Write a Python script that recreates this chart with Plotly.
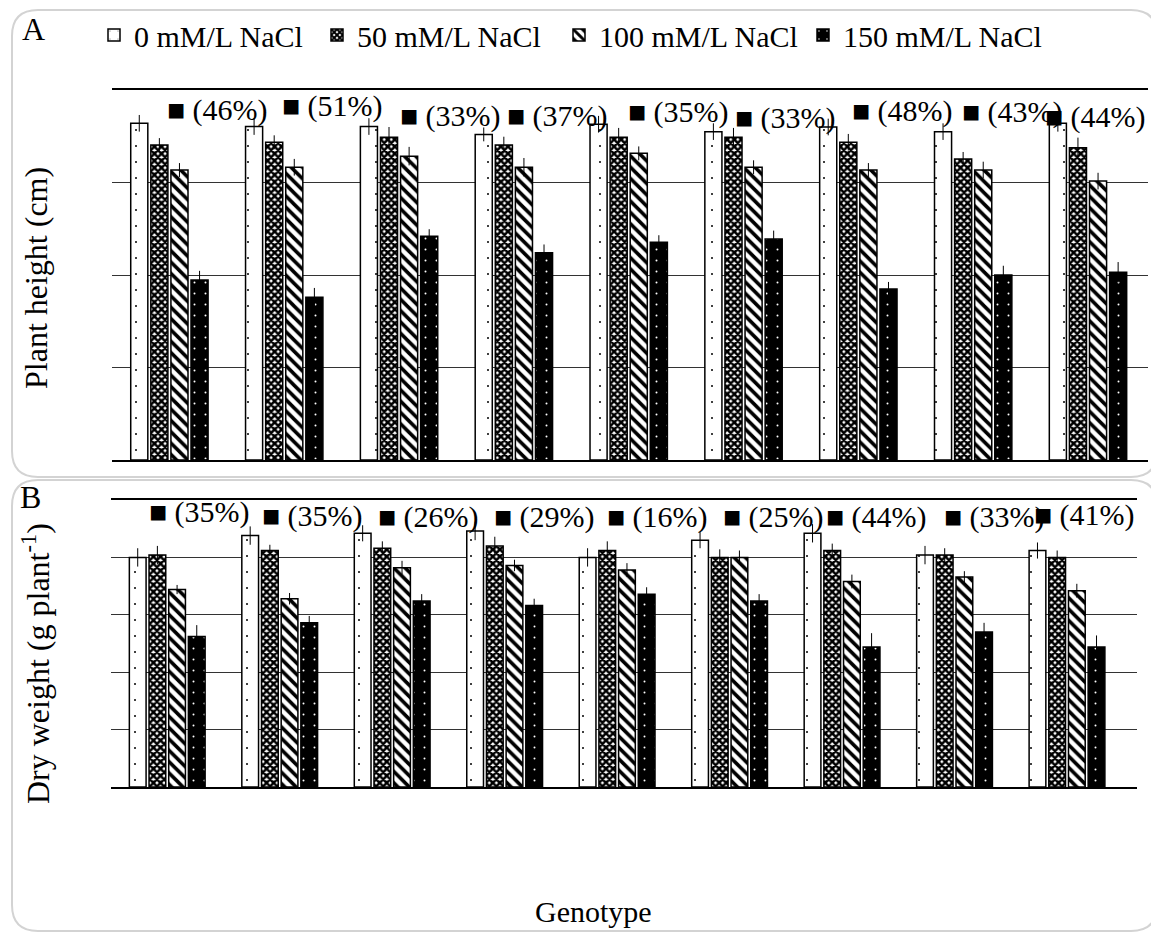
import plotly.graph_objects as go

# page body has an 8px margin; figure is sized/positioned to compensate
OFF = 8
W, H = 1159 - OFF, 933 - OFF

genotypes = ["G1", "G2", "G3", "G4", "G5", "G6", "G7", "G8", "G9"]
treatments = ["0 mM/L NaCl", "50 mM/L NaCl", "100 mM/L NaCl", "150 mM/L NaCl"]

# Panel A: plant height (cm)
height_0 = [72.8, 72.1, 72.1, 70.4, 72.6, 71.0, 72.0, 71.0, 72.8]
height_50 = [68.1, 68.7, 69.8, 68.1, 69.8, 69.8, 68.7, 65.1, 67.5]
height_100 = [62.7, 63.3, 65.7, 63.3, 66.3, 63.3, 62.7, 62.7, 60.3]
height_150 = [38.9, 35.2, 48.4, 44.8, 47.1, 47.8, 37.0, 40.0, 40.6]
height_err_0 = [1.8, 1.8, 1.8, 1.5, 1.8, 1.8, 1.8, 1.8, 1.8]
height_err_50 = [1.5, 1.5, 2.2, 1.8, 2.0, 2.0, 1.8, 1.5, 2.2]
height_err_100 = [1.5, 1.8, 2.0, 2.0, 1.5, 1.5, 1.5, 1.8, 1.8]
height_err_150 = [2.0, 2.0, 1.5, 1.8, 1.5, 1.8, 1.5, 2.0, 2.2]
height_reduction = ["46%", "51%", "33%", "37%", "35%", "33%", "48%", "43%", "44%"]

# Panel B: dry weight (g plant-1)
dry_0 = [2.00, 2.19, 2.21, 2.23, 2.00, 2.15, 2.21, 2.02, 2.06]
dry_50 = [2.02, 2.06, 2.08, 2.10, 2.06, 2.00, 2.06, 2.02, 2.00]
dry_100 = [1.72, 1.64, 1.91, 1.93, 1.89, 2.00, 1.79, 1.83, 1.71]
dry_150 = [1.31, 1.43, 1.62, 1.58, 1.68, 1.62, 1.22, 1.35, 1.22]
dry_err_0 = [0.08, 0.08, 0.07, 0.08, 0.08, 0.07, 0.08, 0.08, 0.07]
dry_err_50 = [0.08, 0.05, 0.06, 0.08, 0.08, 0.07, 0.06, 0.06, 0.06]
dry_err_100 = [0.04, 0.05, 0.06, 0.05, 0.06, 0.06, 0.06, 0.05, 0.06]
dry_err_150 = [0.10, 0.06, 0.06, 0.06, 0.06, 0.06, 0.12, 0.08, 0.10]
dry_reduction = ["35%", "35%", "26%", "29%", "16%", "25%", "44%", "33%", "41%"]

FONT = "Liberation Serif, Times New Roman, serif"

patterns = [
    dict(shape=".", fgcolor="black", bgcolor="white", size=16, solidity=0.012, fgopacity=1),
    dict(shape="x", fgcolor="black", bgcolor="white", size=5, solidity=0.75, fgopacity=1),
    dict(shape="\\", fgcolor="black", bgcolor="white", size=8, solidity=0.45, fgopacity=1),
    dict(shape=".", fgcolor="white", bgcolor="black", size=11, solidity=0.025, fgopacity=1),
]
legend_names = ["legend", "legend2", "legend3", "legend4"]

fig = go.Figure()

a_vals = [height_0, height_50, height_100, height_150]
a_errs = [height_err_0, height_err_50, height_err_100, height_err_150]
b_vals = [dry_0, dry_50, dry_100, dry_150]
b_errs = [dry_err_0, dry_err_50, dry_err_100, dry_err_150]

for i, t in enumerate(treatments):
    fig.add_trace(go.Bar(
        x=genotypes, y=a_vals[i], name=t, legend=legend_names[i],
        marker=dict(color="white" if i < 3 else "black",
                    line=dict(color="black", width=1.5),
                    pattern=patterns[i]),
        error_y=dict(type="data", array=a_errs[i], color="black", thickness=1, width=0),
        xaxis="x", yaxis="y", offsetgroup=str(i),
    ))
for i, t in enumerate(treatments):
    fig.add_trace(go.Bar(
        x=genotypes, y=b_vals[i], name=t, showlegend=False,
        marker=dict(color="white" if i < 3 else "black",
                    line=dict(color="black", width=1.5),
                    pattern=patterns[i]),
        error_y=dict(type="data", array=b_errs[i], color="black", thickness=1, width=0),
        xaxis="x2", yaxis="y2", offsetgroup=str(i),
    ))


def px(x):
    return (x - OFF) / W


def py(y):
    return 1 - (y - OFF) / H


grid = "#333333"
common_x = dict(showticklabels=False, ticks="", showgrid=False, zeroline=False,
                showline=True, mirror=True, linecolor="black", linewidth=1.5,
                fixedrange=True)
common_y = dict(showticklabels=False, ticks="", showgrid=True, gridcolor=grid,
                gridwidth=1, zeroline=False, showline=False, fixedrange=True)

# percent labels (style offsets in pixels)
a_label_dx = [5, 5, 8, 0, 6, -2, 1, -4, -36]
a_label_dy = [2, 6, -4, -4, 0, -6, 1, 0, -5]
b_label_dx = [-11, -11, -7, -4, -3, 0, -9, -4, -26]
b_label_dy = [4, 0, -1, -1, -1, -1, -1, -1, 1]

annotations = []
for g, r, dx, dy in zip(genotypes, height_reduction, a_label_dx, a_label_dy):
    annotations.append(dict(x=g, y=75.2, xref="x", yref="y", text="■ (" + r + ")",
                            showarrow=False, xanchor="left", yanchor="middle",
                            xshift=dx - 9, yshift=dy,
                            font=dict(family=FONT, size=30, color="black")))
for g, r, dx, dy in zip(genotypes, dry_reduction, b_label_dx, b_label_dy):
    annotations.append(dict(x=g, y=2.36, xref="x2", yref="y2", text="■ (" + r + ")",
                            showarrow=False, xanchor="left", yanchor="middle",
                            xshift=dx - 9, yshift=dy,
                            font=dict(family=FONT, size=30, color="black")))

annotations += [
    dict(x=px(33), y=py(29), xref="paper", yref="paper", text="A", showarrow=False,
         xanchor="center", yanchor="middle", font=dict(family=FONT, size=32, color="black")),
    dict(x=px(30), y=py(497), xref="paper", yref="paper", text="B", showarrow=False,
         xanchor="center", yanchor="middle", font=dict(family=FONT, size=32, color="black")),
    dict(x=px(36), y=py(278), xref="paper", yref="paper", text="Plant height (cm)",
         textangle=-90, showarrow=False, xanchor="center", yanchor="middle",
         font=dict(family=FONT, size=32, color="black")),
    dict(x=px(36), y=py(664), xref="paper", yref="paper",
         text="Dry weight (g plant<sup>-1</sup>)",
         textangle=-90, showarrow=False, xanchor="center", yanchor="middle",
         font=dict(family=FONT, size=32, color="black")),
    dict(x=px(593), y=py(911), xref="paper", yref="paper", text="Genotype",
         showarrow=False, xanchor="center", yanchor="middle",
         font=dict(family=FONT, size=30, color="black")),
]


def rounded_box(x0, y0, x1, y1, r):
    X0, X1 = px(x0), px(x1)
    Y0, Y1 = py(y0), py(y1)
    rx, ry = r / W, r / H
    return (f"M {X0 + rx} {Y0} L {X1 - rx} {Y0} Q {X1} {Y0} {X1} {Y0 - ry} "
            f"L {X1} {Y1 + ry} Q {X1} {Y1} {X1 - rx} {Y1} "
            f"L {X0 + rx} {Y1} Q {X0} {Y1} {X0} {Y1 + ry} "
            f"L {X0} {Y0 - ry} Q {X0} {Y0} {X0 + rx} {Y0} Z")


shapes = [
    dict(type="path", xref="paper", yref="paper", path=rounded_box(12, 10, 1157, 477, 26),
         line=dict(color="#d3d3d3", width=2), layer="below"),
    dict(type="path", xref="paper", yref="paper", path=rounded_box(12, 480, 1157, 931, 26),
         line=dict(color="#d3d3d3", width=2), layer="below"),
]

legend_x = [94, 317, 559, 803]
legend_layout = {}
for name, lx in zip(legend_names, legend_x):
    legend_layout[name] = dict(x=px(lx), y=py(35), xanchor="left", yanchor="middle",
                               orientation="h", bgcolor="rgba(0,0,0,0)",
                               font=dict(family=FONT, size=30, color="black"),
                               itemclick=False, itemdoubleclick=False)

fig.update_layout(
    width=W, height=H,
    margin=dict(l=0, r=0, t=0, b=0),
    paper_bgcolor="white", plot_bgcolor="white",
    barmode="group", bargap=0.3, bargroupgap=0.15,
    xaxis=dict(domain=[px(112), px(1148)], anchor="y", **common_x),
    yaxis=dict(domain=[py(460), py(90)], anchor="x", range=[0, 80], dtick=20, **common_y),
    xaxis2=dict(domain=[px(111), px(1137)], anchor="y2", **common_x),
    yaxis2=dict(domain=[py(787), py(500)], anchor="x2", range=[0, 2.5], dtick=0.5, **common_y),
    annotations=annotations,
    shapes=shapes,
    showlegend=True,
    **legend_layout,
)

fig.write_html("out.html")
